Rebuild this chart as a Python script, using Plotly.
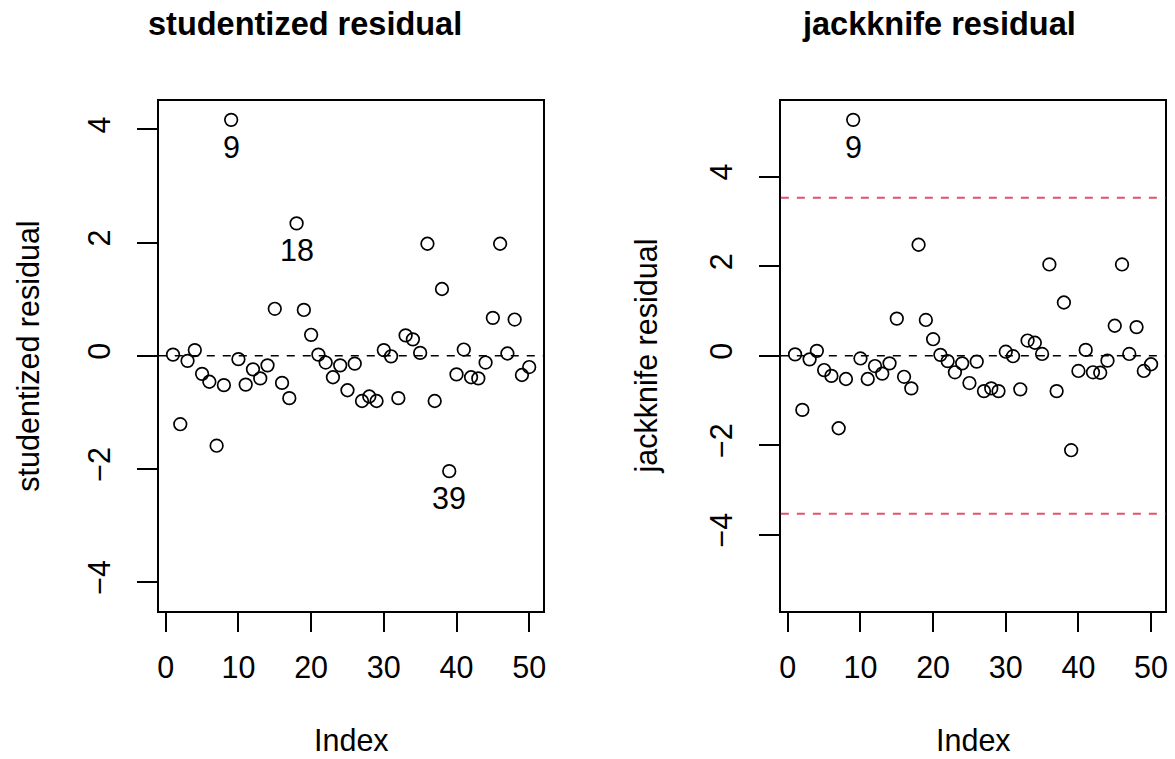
import plotly.graph_objects as go

# Observation index and the two residual series from the fitted model
index = list(range(1, 51))

studentized = [
    0.02, -1.21, -0.09, 0.10, -0.32, -0.46, -1.59, -0.52, 4.17, -0.06,
    -0.51, -0.24, -0.40, -0.17, 0.83, -0.48, -0.75, 2.34, 0.81, 0.37,
    0.02, -0.12, -0.38, -0.17, -0.61, -0.14, -0.80, -0.72, -0.80, 0.10,
    -0.01, -0.75, 0.36, 0.29, 0.05, 1.98, -0.80, 1.18, -2.04, -0.33,
    0.11, -0.38, -0.40, -0.12, 0.67, 1.98, 0.04, 0.64, -0.34, -0.20,
]

jackknife = [
    0.03, -1.21, -0.08, 0.11, -0.32, -0.45, -1.62, -0.52, 5.27, -0.06,
    -0.52, -0.23, -0.40, -0.17, 0.83, -0.47, -0.73, 2.48, 0.80, 0.37,
    0.02, -0.12, -0.37, -0.17, -0.61, -0.13, -0.79, -0.73, -0.79, 0.09,
    -0.01, -0.75, 0.34, 0.29, 0.04, 2.04, -0.79, 1.19, -2.11, -0.34,
    0.13, -0.37, -0.38, -0.11, 0.67, 2.04, 0.04, 0.64, -0.34, -0.19,
]

# Flagged observations in each panel
studentized_flagged = [9, 18, 39]
jackknife_flagged = [9]

# Bonferroni cut-off for the jackknife residuals
bonferroni_cut = 3.53

x_ticks = [0, 10, 20, 30, 40, 50]
y_ticks = [-4, -2, 0, 2, 4]

W, H = 1175, 759
FONT = "Liberation Sans, Arial, Helvetica, sans-serif"
BASE = 30.5


def px_x(p):
    return p / W


def px_y(p):
    return 1 - p / H


def padded(lo, hi):
    pad = (hi - lo) * 0.04
    return [lo - pad, hi + pad]


fig = go.Figure()

panels = [
    dict(y=studentized, flagged=studentized_flagged, xa="x", ya="y",
         left=158.3, right=544.3, title="studentized residual",
         title_x=305.5, ylab="studentized residual", ylab_x=27,
         cut=None),
    dict(y=jackknife, flagged=jackknife_flagged, xa="x2", ya="y2",
         left=782.5, right=1168.3, title="jackknife residual",
         title_x=941, ylab="jackknife residual", ylab_x=648,
         cut=bonferroni_cut),
]

top, bottom = 101, 610.5
annotations = []
shapes = []

for i, p in enumerate(panels):
    fig.add_trace(go.Scatter(
        x=index, y=p["y"], mode="markers", xaxis=p["xa"], yaxis=p["ya"],
        marker=dict(symbol="circle-open", size=12.6, color="black",
                    line=dict(width=1.7, color="black")),
        showlegend=False, hoverinfo="skip",
    ))

    suffix = "" if i == 0 else str(i + 1)
    ymax = max(abs(v) for v in p["y"])
    axis_common = dict(
        showgrid=False, zeroline=False, showline=True, mirror=True,
        linecolor="black", linewidth=1.7, ticks="outside", ticklen=20,
        tickwidth=1.7, tickcolor="black",
        tickfont=dict(family=FONT, size=BASE, color="black"),
    )
    fig.update_layout(**{
        "xaxis" + suffix: dict(
            domain=[px_x(p["left"]), px_x(p["right"])],
            range=padded(1, 50), tickvals=x_ticks, ticklabelstandoff=9,
            anchor="y" + suffix, **axis_common),
        "yaxis" + suffix: dict(
            domain=[px_y(bottom), px_y(top)],
            range=[-ymax * 1.08, ymax * 1.08], tickvals=y_ticks,
            tickangle=-90, ticklabelstandoff=15, anchor="x" + suffix,
            **axis_common),
    })

    # reference line at zero
    shapes.append(dict(type="line", xref=p["xa"] + " domain", yref=p["ya"],
                       x0=0, x1=1, y0=0, y1=0,
                       line=dict(color="black", width=1.7, dash="8px,8px")))
    if p["cut"] is not None:
        for c in (p["cut"], -p["cut"]):
            shapes.append(dict(type="line", xref=p["xa"] + " domain",
                               yref=p["ya"], x0=0, x1=1, y0=c, y1=c,
                               line=dict(color="#DF536B", width=2,
                                         dash="8px,8px")))

    # labels under the flagged points
    for k in p["flagged"]:
        annotations.append(dict(
            x=k, y=p["y"][k - 1], xref=p["xa"], yref=p["ya"], text=str(k),
            showarrow=False, yanchor="middle", yshift=-27,
            font=dict(family=FONT, size=BASE, color="black")))

    # panel title
    annotations.append(dict(
        x=px_x(p["title_x"]), y=px_y(24), xref="paper", yref="paper",
        text="<b>" + p["title"] + "</b>", showarrow=False,
        xanchor="center", yanchor="middle",
        font=dict(family=FONT, size=32.5, color="black")))

    # axis titles
    annotations.append(dict(
        x=px_x((p["left"] + p["right"]) / 2), y=0, xref="paper",
        yref="paper", text="Index", showarrow=False, xanchor="center",
        yanchor="bottom", font=dict(family=FONT, size=BASE, color="black")))
    annotations.append(dict(
        x=px_x(p["ylab_x"]), y=px_y((top + bottom) / 2), xref="paper",
        yref="paper", text=p["ylab"], showarrow=False, textangle=-90,
        xanchor="center", yanchor="middle",
        font=dict(family=FONT, size=BASE, color="black")))

fig.update_layout(
    width=W, height=H, margin=dict(l=0, r=0, t=0, b=0),
    plot_bgcolor="white", paper_bgcolor="white",
    annotations=annotations, shapes=shapes,
)

fig.write_html("out.html")
